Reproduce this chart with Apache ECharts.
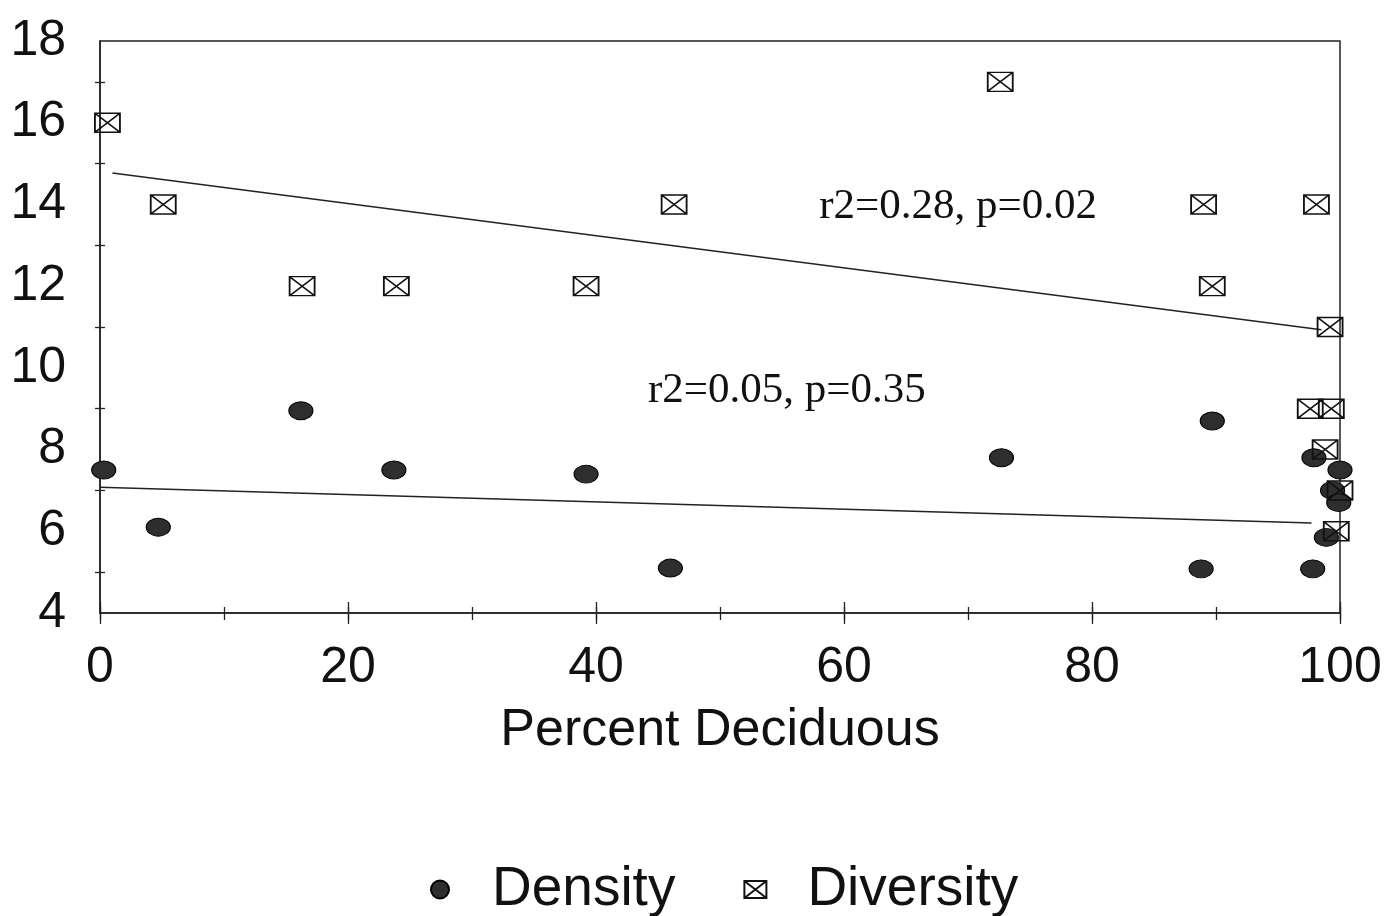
<!DOCTYPE html>
<html>
<head>
<meta charset="utf-8">
<title>Percent Deciduous</title>
<script src="https://cdn.jsdelivr.net/npm/echarts@6/dist/echarts.min.js"></script>
<style>
  html, body { margin: 0; padding: 0; background: #fff; }
  #chart { width: 1392px; height: 916px; }
</style>
</head>
<body>
<div id="chart"></div>
<script>
// 数据
var densityX = [0.3, 4.7, 16.2, 23.7, 39.2, 46.0, 72.7, 89.7, 88.8, 97.8, 97.9, 100, 99.4, 99.9, 98.9];
var densityY = [7.5, 6.1, 8.95, 7.5, 7.4, 5.1, 7.8, 8.7, 5.08, 5.08, 7.8, 7.5, 7.0, 6.7, 5.85];

var diversityX = [0.6, 5.1, 16.3, 23.9, 39.2, 46.3, 72.6, 89.0, 89.7, 98.1, 100.1, 99.2, 100.3, 97.6, 99.3, 98.8, 100, 99.7];
var diversityY = [16, 14, 12, 12, 12, 14, 17, 14, 12, 14, 12, 11, 11, 9, 9, 8, 7, 6];

// 回归线端点
var diversityFitX = [1.0, 98.5];
var diversityFitY = [14.77, 10.93];
var densityFitX = [0, 97.7];
var densityFitY = [7.08, 6.2];

// 注释文字
var noteText = ['r2=0.28, p=0.02', 'r2=0.05, p=0.35'];
var noteX = [69.2, 55.4];
var noteY = [13.95, 9.45];

var seriesNames = ['Density', 'Diversity'];

function pairs(xs, ys) {
  return xs.map(function (x, i) { return [x, ys[i]]; });
}

var boxPath = 'path://M0,0 L26,0 L26,20 L0,20 Z M0,0 L26,20 M26,0 L0,20';
var sansFont = 'Liberation Sans, Arial, sans-serif';
var inkColor = '#111';

var chart = echarts.init(document.getElementById('chart'));

// 主 x 轴：轴线 + 标签，刻度另外画
var xMain = {
  type: 'value',
  position: 'bottom',
  min: 0,
  max: 100,
  interval: 20,
  name: 'Percent Deciduous',
  nameLocation: 'middle',
  nameGap: 92,
  nameTextStyle: { fontFamily: sansFont, fontSize: 52, color: inkColor },
  axisLine: { show: true, lineStyle: { color: '#222', width: 1.5 } },
  axisTick: { show: false },
  axisLabel: { margin: 30, fontFamily: sansFont, fontSize: 50, color: inkColor },
  splitLine: { show: false }
};

// 穿过轴线的刻度：把无轴线的辅助轴往里挪一点
function xTickAxis(interval, offset, len) {
  return {
    type: 'value',
    position: 'bottom',
    min: 0,
    max: 100,
    interval: interval,
    offset: offset,
    axisLine: { show: false },
    axisTick: { show: true, length: len, lineStyle: { color: '#222', width: 1.3 } },
    axisLabel: { show: false },
    splitLine: { show: false }
  };
}

var yMain = {
  type: 'value',
  position: 'left',
  min: 4,
  max: 18,
  interval: 2,
  axisLine: { show: true, lineStyle: { color: '#222', width: 1.5 } },
  axisTick: { show: false },
  axisLabel: { margin: 34, fontFamily: sansFont, fontSize: 50, color: inkColor },
  splitLine: { show: false }
};

var yTicks = {
  type: 'value',
  position: 'left',
  min: 4,
  max: 18,
  interval: 2,
  offset: -5,
  axisLine: { show: false },
  axisTick: { show: false },
  minorTick: { show: true, splitNumber: 2, length: 10, lineStyle: { color: '#222', width: 1.3 } },
  axisLabel: { show: false },
  splitLine: { show: false }
};

var option = {
  backgroundColor: '#fff',
  animation: false,
  grid: {
    left: 100,
    right: 52,
    top: 41,
    bottom: 303,
    show: true,
    borderColor: '#222',
    borderWidth: 1.5,
    backgroundColor: 'transparent'
  },
  xAxis: [xMain, xTickAxis(20, -11, 22), xTickAxis(10, -6, 13)],
  yAxis: [yMain, yTicks],
  legend: {
    left: 425,
    top: 857,
    itemGap: 68,
    itemWidth: 22,
    itemHeight: 18,
    textStyle: { fontFamily: sansFont, fontSize: 55, color: inkColor, padding: [0, 0, 0, 36] },
    data: [
      { name: seriesNames[0], icon: 'circle' },
      { name: seriesNames[1], icon: boxPath }
    ]
  },
  series: [
    {
      name: seriesNames[0],
      type: 'scatter',
      symbol: 'circle',
      symbolSize: [24, 18],
      itemStyle: { color: '#2e2e2e', borderColor: '#000', borderWidth: 1, opacity: 1 },
      data: pairs(densityX, densityY),
      z: 3
    },
    {
      name: seriesNames[1],
      type: 'scatter',
      symbol: boxPath,
      symbolSize: [25, 19],
      itemStyle: { color: 'rgba(255,255,255,0)', borderColor: '#111', borderWidth: 1.6, opacity: 1 },
      data: pairs(diversityX, diversityY),
      z: 4
    },
    {
      name: 'diversityFit',
      type: 'line',
      showSymbol: false,
      lineStyle: { color: '#222', width: 1.5 },
      data: pairs(diversityFitX, diversityFitY),
      silent: true
    },
    {
      name: 'densityFit',
      type: 'line',
      showSymbol: false,
      lineStyle: { color: '#222', width: 1.5 },
      data: pairs(densityFitX, densityFitY),
      silent: true
    },
    {
      name: 'notes',
      type: 'scatter',
      symbolSize: 0,
      silent: true,
      itemStyle: { opacity: 1 },
      label: {
        show: true,
        position: 'inside',
        formatter: '{b}',
        fontFamily: 'Liberation Serif, Times New Roman, serif',
        fontSize: 43,
        color: inkColor
      },
      data: noteText.map(function (t, i) { return { name: t, value: [noteX[i], noteY[i]] }; })
    }
  ]
};

chart.setOption(option);
</script>
</body>
</html>
